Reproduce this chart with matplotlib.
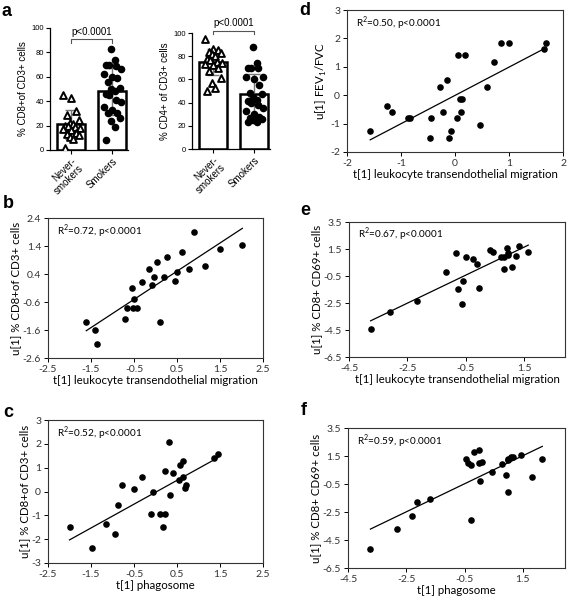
import numpy as np
import matplotlib.pyplot as plt

# ---- panel a data (% of CD3+ cells) ----
groups = ['Never-\nsmokers', 'Smokers']
cd8_never = [45, 43, 32, 29, 25, 22, 21, 20, 20, 19, 18, 17, 16, 14, 13, 12, 11, 9, 2]
cd8_smok = [83, 74, 70, 70, 69, 66, 62, 60, 59, 56, 51, 50, 48, 46, 45, 41, 39, 35,
            33, 30, 30, 26, 24, 19, 8]
cd8_mean = [21, 48]
cd8_sd = [12, 19.5]
cd4_never = [95, 86, 85, 84, 83, 82, 80, 78, 77, 75, 74, 73, 72, 70, 67, 61, 57, 53, 50]
cd4_smok = [88, 74, 70, 70, 70, 62, 62, 60, 55, 48, 47, 45, 42, 41, 40, 38, 35, 33,
            30, 28, 27, 26, 25, 23, 23]
cd4_mean = [75, 47]
cd4_sd = [11.5, 17.5]

# ---- panel b: u[1] %CD8 vs t[1] leukocyte transendothelial migration ----
b_x = [-1.61, -1.41, -1.36, -0.72, -0.66, -0.52, -0.42, -0.54, -0.51, -0.31, -0.15, -0.08,
       -0.04, 0.03, 0.10, 0.20, 0.27, 0.45, 0.51, 0.62, 0.79, 0.90, 1.14, 1.49, 2.02]
b_y = [-1.33, -1.60, -2.11, -1.21, -0.83, -0.83, -0.83, -0.11, -0.49, 0.10, 0.59, 0.00,
       0.28, 0.83, -1.33, 0.28, 1.01, 0.16, 0.47, 1.17, 0.57, 1.91, 0.70, 1.28, 1.42]

# ---- panel c: u[1] %CD8 vs t[1] phagosome ----
c_x = [-2.00, -1.48, -1.14, -0.94, -0.87, -0.79, -0.49, -0.31, -0.10, -0.05, 0.10, 0.17,
       0.21, 0.21, 0.31, 0.34, 0.40, 0.55, 0.57, 0.64, 0.65, 0.70, 0.69, 1.36, 1.45]
c_y = [-1.49, -2.38, -1.38, -1.80, -0.57, 0.29, 0.09, 0.62, -0.96, -0.02, -0.96, -1.49,
       -0.93, 0.87, 2.09, -0.16, 0.76, 0.48, 1.10, 1.27, 0.59, 0.27, 0.13, 1.39, 1.57]

# ---- panel d: u[1] FEV1/FVC vs t[1] leukocyte transendothelial migration ----
d_x = [-1.57, -1.26, -1.17, -0.87, -0.83, -0.45, -0.46, -0.28, -0.22, -0.15, -0.12, -0.07,
       0.03, 0.05, 0.09, 0.13, 0.11, 0.18, 0.46, 0.60, 0.73, 0.85, 1.00, 1.64, 1.69]
d_y = [-1.27, -0.38, -0.60, -0.82, -0.82, -0.82, -1.50, 0.30, -0.60, 0.52, -1.50, -1.27,
       -0.82, 1.40, -0.15, -0.15, -0.60, 1.40, -1.05, 0.30, 1.18, 1.85, 1.85, 1.62, 1.85]

# ---- panel e: u[1] %CD8+CD69+ vs t[1] leukocyte transendothelial migration ----
e_x = [-3.76, -3.08, -2.16, -1.17, -0.82, -0.75, -0.60, -0.63, -0.49, -0.24, -0.11, -0.03,
       0.33, 0.45, 0.70, 0.80, 0.82, 0.93, 0.95, 0.95, 1.10, 1.22, 1.33, 1.64]
e_y = [-4.42, -3.19, -2.37, -0.20, 1.19, -1.48, -0.89, -2.59, 0.89, 0.77, 0.37, -1.38,
       1.41, 1.28, 0.94, 0.89, 0.02, 1.60, 1.19, 1.06, 0.17, 1.01, 1.73, 1.28]

# ---- panel f: u[1] %CD8+CD69+ vs t[1] phagosome ----
f_x = [-3.73, -2.83, -2.29, -2.14, -1.69, -0.45, -0.37, -0.29, -0.28, -0.17, 0.01, 0.01,
       0.09, 0.03, 0.46, 0.80, 0.93, 0.98, 1.01, 1.01, 1.10, 1.18, 1.43, 1.81, 2.17]
f_y = [-5.12, -3.71, -2.78, -1.75, -1.60, 1.29, 0.98, 0.84, -3.04, 1.82, 1.94, 0.98,
       1.10, -0.29, 0.33, 0.91, 0.14, 1.22, 1.29, -1.08, 1.41, 1.41, 1.58, -0.02, 1.29]

W, H = 567, 607
fig = plt.figure(figsize=(W / 100, H / 100), dpi=100)


def box(l, t, r, b):
    # pixel box -> figure fraction rect
    return [l / W, 1 - b / H, (r - l) / W, (b - t) / H]


def jitter(vals, width=0.26):
    order = np.argsort(vals)
    pattern = [-0.6, 0.2, -0.15, 0.7, -0.4, 0.45, 0.0, -0.8, 0.85, 0.3, -0.3]
    off = np.zeros(len(vals))
    for k, i in enumerate(order):
        off[i] = pattern[k % len(pattern)] * width
    return off


def bar_panel(rect, never, smok, means, sds, ylabel, brk_y, txt_y):
    ax = fig.add_axes(rect)
    ax.bar([0, 1], means, width=0.68, color='white', edgecolor='black', linewidth=1.8, zorder=1)
    ax.errorbar([0, 1], means, yerr=sds, fmt='none', ecolor='#777777', elinewidth=1,
                capsize=4, capthick=1, zorder=2)
    ax.scatter(np.array(jitter(never)), never, marker='^', s=24, facecolor='white',
               edgecolor='black', linewidth=1.4, zorder=3)
    ax.scatter(1 + jitter(smok), smok, marker='o', s=20, color='black', zorder=3)
    ax.set_xlim(-0.52, 1.38)
    ax.set_ylim(0, 100)
    ax.set_yticks(range(0, 101, 20))
    ax.set_xticks([0, 1])
    ax.set_xticklabels(groups, rotation=45, ha='right', rotation_mode='anchor',
                       fontsize=7, family='Liberation Sans', linespacing=0.9)
    for lab in ax.get_yticklabels():
        lab.set_fontsize(5.5)
        lab.set_family('Liberation Sans')
    ax.tick_params(length=3, width=0.8, pad=1.5)
    ax.spines[['top', 'right']].set_visible(False)
    ax.spines[['left', 'bottom']].set_linewidth(0.9)
    ax.set_ylabel(ylabel, fontsize=7, family='Liberation Sans', labelpad=2)
    ax.plot([0, 0, 1, 1], [brk_y - 3, brk_y, brk_y, brk_y - 3], color='#555555', lw=0.8,
            clip_on=False)
    ax.text(0.5, txt_y, 'p<0.0001', ha='center', va='center', fontsize=7,
            family='Liberation Sans')
    return ax


def scatter_panel(rect, x, y, xlim, xticks, ylim, yticks, r2, xlabel, ylabel, fmt):
    ax = fig.add_axes(rect)
    ax.scatter(x, y, s=14, color='black', zorder=3)
    k, c0 = np.polyfit(x, y, 1)
    xs = np.array([min(x), max(x)])
    ax.plot(xs, k * xs + c0, color='black', lw=0.9)
    ax.set_xlim(xlim)
    ax.set_ylim(ylim)
    ax.set_xticks(xticks)
    ax.set_yticks(yticks)
    ax.set_xticklabels([fmt % v for v in xticks])
    ax.set_yticklabels([fmt % v for v in yticks])
    ax.tick_params(length=3, width=0.7, labelsize=7.5, pad=2, labelcolor='#333333')
    for s in ax.spines.values():
        s.set_linewidth(0.8)
        s.set_color('#333333')
    ax.text(0.04, 0.97, r2, transform=ax.transAxes, ha='left', va='top', fontsize=7.2)
    ax.set_xlabel(xlabel, fontsize=8.3, labelpad=1)
    ax.set_ylabel(ylabel, fontsize=8.3, labelpad=1)
    return ax


plt.rcParams['font.family'] = ['Lato', 'DejaVu Sans']
plt.rcParams['mathtext.fontset'] = 'custom'
plt.rcParams['mathtext.rm'] = 'Lato'

bar_panel(box(50, 28, 128, 150), cd8_never, cd8_smok, cd8_mean, cd8_sd,
          '% CD8+of CD3+ cells', 91, 97)
bar_panel(box(192, 33, 270, 149), cd4_never, cd4_smok, cd4_mean, cd4_sd,
          '% CD4+ of CD3+ cells', 102, 108.5)

mig = 't[1] leukocyte transendothelial migration'
phag = 't[1] phagosome'
scatter_panel(box(347, 10, 563, 152), d_x, d_y, (-2, 2), [-2, -1, 0, 1, 2], (-2, 3),
              [-2, -1, 0, 1, 2, 3], r'R$^2$=0.50, p<0.0001', mig,
              r'u[1] FEV$_1$/FVC', '%g')
scatter_panel(box(48, 218, 263, 358), b_x, b_y, (-2.5, 2.5), [-2.5, -1.5, -0.5, 0.5, 1.5, 2.5],
              (-2.6, 2.4), [-2.6, -1.6, -0.6, 0.4, 1.4, 2.4], r'R$^2$=0.72, p<0.0001', mig,
              'u[1] % CD8+of CD3+ cells', '%.1f')
scatter_panel(box(349, 222, 565, 357), e_x, e_y, (-4.5, 2.9), [-4.5, -2.5, -0.5, 1.5],
              (-6.5, 3.5), [-6.5, -4.5, -2.5, -0.5, 1.5, 3.5], r'R$^2$=0.67, p<0.0001', mig,
              'u[1] % CD8+ CD69+ cells', '%.1f')
scatter_panel(box(48, 420, 263, 563), c_x, c_y, (-2.5, 2.5), [-2.5, -1.5, -0.5, 0.5, 1.5, 2.5],
              (-3, 3), [-3, -2, -1, 0, 1, 2, 3], r'R$^2$=0.52, p<0.0001', phag,
              'u[1] % CD8+of CD3+ cells', '%g')
scatter_panel(box(348, 428, 565, 568), f_x, f_y, (-4.5, 2.95), [-4.5, -2.5, -0.5, 1.5],
              (-6.5, 3.5), [-6.5, -4.5, -2.5, -0.5, 1.5, 3.5], r'R$^2$=0.59, p<0.0001', phag,
              'u[1] % CD8+ CD69+ cells', '%.1f')

for lab, px, py in [('a', 1, 3), ('d', 299, 2), ('b', 3, 195), ('e', 300, 202),
                    ('c', 3, 404), ('f', 301, 402)]:
    fig.text(px / W, 1 - py / H, lab, ha='left', va='top', fontsize=13, fontweight='bold',
             family='Liberation Sans')

fig.savefig('out.png', dpi=100)
